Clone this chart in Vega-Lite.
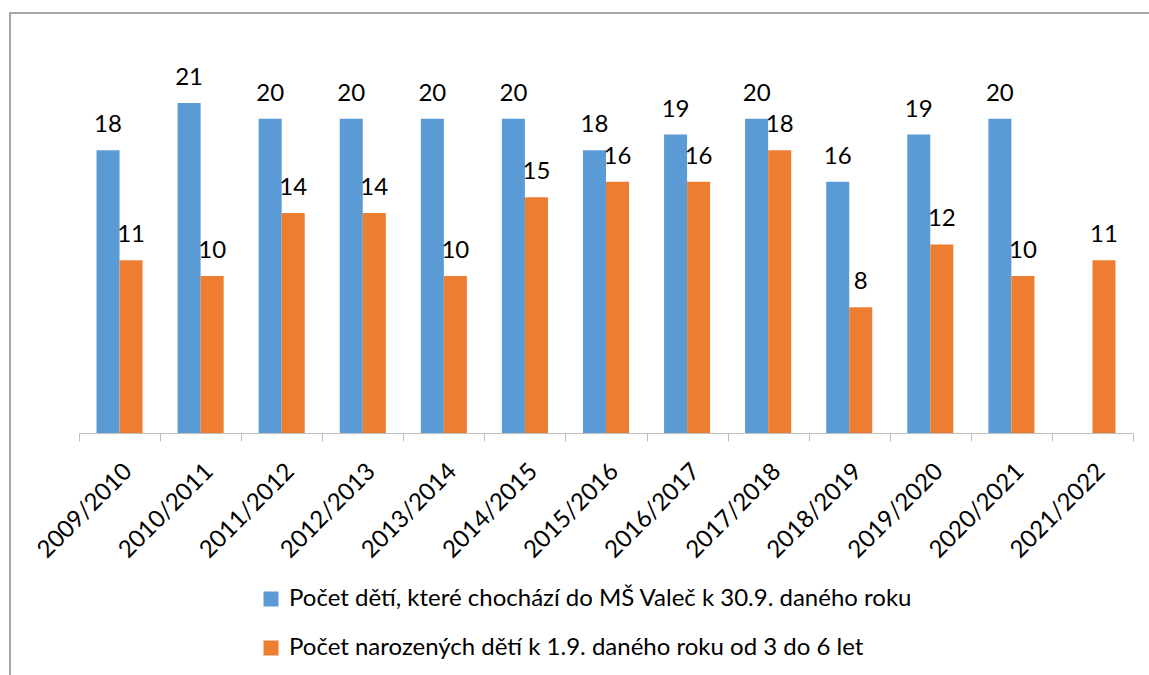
{
  "$schema": "https://vega.github.io/schema/vega-lite/v6.json",
  "autosize": "none",
  "width": 1139,
  "height": 663,
  "padding": {"left": 10, "top": 12, "right": 0, "bottom": 0},
  "background": "white",
  "config": {"view": {"stroke": null}, "font": "Lato"},
  "title": {
    "text": "dětí", "anchor": "start", "frame": "group", "font": "Liberation Serif",
    "fontStyle": "italic", "fontWeight": "normal", "fontSize": 24, "color": "black",
    "baseline": "alphabetic", "offset": 8
  },
  "data": {"values": [
    {"rok": "2009/2010", "serie": "Počet dětí, které chochází do MŠ Valeč k 30.9. daného roku", "pocet": 18},
    {"rok": "2010/2011", "serie": "Počet dětí, které chochází do MŠ Valeč k 30.9. daného roku", "pocet": 21},
    {"rok": "2011/2012", "serie": "Počet dětí, které chochází do MŠ Valeč k 30.9. daného roku", "pocet": 20},
    {"rok": "2012/2013", "serie": "Počet dětí, které chochází do MŠ Valeč k 30.9. daného roku", "pocet": 20},
    {"rok": "2013/2014", "serie": "Počet dětí, které chochází do MŠ Valeč k 30.9. daného roku", "pocet": 20},
    {"rok": "2014/2015", "serie": "Počet dětí, které chochází do MŠ Valeč k 30.9. daného roku", "pocet": 20},
    {"rok": "2015/2016", "serie": "Počet dětí, které chochází do MŠ Valeč k 30.9. daného roku", "pocet": 18},
    {"rok": "2016/2017", "serie": "Počet dětí, které chochází do MŠ Valeč k 30.9. daného roku", "pocet": 19},
    {"rok": "2017/2018", "serie": "Počet dětí, které chochází do MŠ Valeč k 30.9. daného roku", "pocet": 20},
    {"rok": "2018/2019", "serie": "Počet dětí, které chochází do MŠ Valeč k 30.9. daného roku", "pocet": 16},
    {"rok": "2019/2020", "serie": "Počet dětí, které chochází do MŠ Valeč k 30.9. daného roku", "pocet": 19},
    {"rok": "2020/2021", "serie": "Počet dětí, které chochází do MŠ Valeč k 30.9. daného roku", "pocet": 20},
    {"rok": "2009/2010", "serie": "Počet narozených dětí k 1.9. daného roku od 3 do 6 let", "pocet": 11},
    {"rok": "2010/2011", "serie": "Počet narozených dětí k 1.9. daného roku od 3 do 6 let", "pocet": 10},
    {"rok": "2011/2012", "serie": "Počet narozených dětí k 1.9. daného roku od 3 do 6 let", "pocet": 14},
    {"rok": "2012/2013", "serie": "Počet narozených dětí k 1.9. daného roku od 3 do 6 let", "pocet": 14},
    {"rok": "2013/2014", "serie": "Počet narozených dětí k 1.9. daného roku od 3 do 6 let", "pocet": 10},
    {"rok": "2014/2015", "serie": "Počet narozených dětí k 1.9. daného roku od 3 do 6 let", "pocet": 15},
    {"rok": "2015/2016", "serie": "Počet narozených dětí k 1.9. daného roku od 3 do 6 let", "pocet": 16},
    {"rok": "2016/2017", "serie": "Počet narozených dětí k 1.9. daného roku od 3 do 6 let", "pocet": 16},
    {"rok": "2017/2018", "serie": "Počet narozených dětí k 1.9. daného roku od 3 do 6 let", "pocet": 18},
    {"rok": "2018/2019", "serie": "Počet narozených dětí k 1.9. daného roku od 3 do 6 let", "pocet": 8},
    {"rok": "2019/2020", "serie": "Počet narozených dětí k 1.9. daného roku od 3 do 6 let", "pocet": 12},
    {"rok": "2020/2021", "serie": "Počet narozených dětí k 1.9. daného roku od 3 do 6 let", "pocet": 10},
    {"rok": "2021/2022", "serie": "Počet narozených dětí k 1.9. daného roku od 3 do 6 let", "pocet": 11}
  ]},
  "layer": [
    {
      "encoding": {
        "x": {
          "field": "rok", "type": "nominal", "sort": null,
          "scale": {"range": [69, 1123], "paddingInner": 0, "paddingOuter": 0},
          "axis": {
            "title": null, "labelAngle": -45, "labelFontSize": 24, "labelColor": "black",
            "labelPadding": 18, "domainColor": "#BFBFBF", "tickColor": "#BFBFBF",
            "tickBand": "extent", "tickSize": 8, "labelFont": "Lato", "offset": -242
          }
        },
        "xOffset": {"field": "serie", "type": "nominal", "scale": {"paddingOuter": 0.76, "paddingInner": 0}},
        "y": {
          "field": "pocet", "type": "quantitative",
          "scale": {"domain": [0, 26.8], "nice": false, "range": [421, 0]},
          "axis": null
        }
      },
      "layer": [
        {
          "mark": {"type": "bar"},
          "encoding": {
            "color": {
              "field": "serie", "type": "nominal",
              "scale": {"range": ["#5B9BD5", "#ED7D31"]},
              "legend": {
                "title": null, "orient": "none", "legendX": 249, "legendY": 575,
                "direction": "vertical", "labelFontSize": 24, "labelColor": "black",
                "labelFont": "Lato", "symbolType": "square", "symbolSize": 225,
                "symbolStrokeWidth": 0, "rowPadding": 25, "labelOffset": 6, "labelLimit": 900
              }
            }
          }
        },
        {
          "mark": {"type": "text", "baseline": "alphabetic", "dy": -18, "fontSize": 24, "color": "black", "font": "Lato"},
          "encoding": {"text": {"field": "pocet", "type": "quantitative"}}
        }
      ]
    },
    {
      "mark": {"type": "rect", "color": "#A6A6A6", "strokeWidth": 0},
      "encoding": {
        "x": {"datum": 0, "type": "quantitative", "scale": {"domain": [0, 1], "nice": false, "zero": false}, "axis": null},
        "x2": {"datum": 1},
        "y": {"datum": 26.8, "type": "quantitative", "axis": null},
        "y2": {"datum": 26.72}
      }
    },
    {
      "mark": {"type": "rule", "color": "#A6A6A6", "strokeWidth": 1.3},
      "encoding": {
        "x": {"datum": 0, "type": "quantitative", "scale": {"domain": [0, 1], "nice": false, "zero": false}, "axis": null},
        "y": {"datum": 26.8, "type": "quantitative", "axis": null},
        "y2": {"datum": -16}
      }
    }
  ],
  "resolve": {"scale": {"x": "independent"}, "axis": {"x": "independent"}}
}
